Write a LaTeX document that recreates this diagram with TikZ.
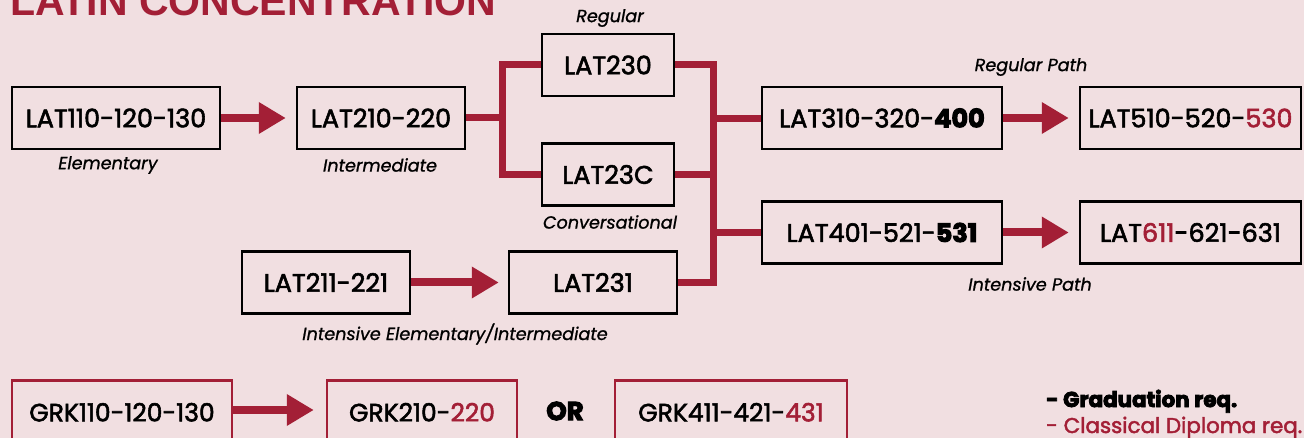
\documentclass[tikz,border=0pt]{standalone}
\usepackage{fontspec}
\usetikzlibrary{arrows.meta}
\setmainfont{Poppins}[ItalicFeatures={FakeBold=1}]
\newfontfamily\titlefont{Liberation Sans}
\newfontfamily\boxfont{Poppins}[FakeBold=2.2]
\newfontfamily\heavy{Poppins}[BoldFeatures={FakeBold=4}]
\definecolor{bg}{HTML}{F1DFE1}
\definecolor{crim}{HTML}{A31F36}
\tikzset{
  box/.style={draw=black, line width=2.5pt, minimum height=62pt, inner sep=0pt, font=\boxfont\fontsize{25.5}{28}\selectfont},
  gbox/.style={draw=crim, line width=2.5pt, minimum height=64pt, inner sep=0pt, font=\boxfont\fontsize{25}{28}\selectfont},
  lab/.style={inner sep=0pt, font=\itshape\fontsize{17.6}{20}\selectfont},
  conn/.style={draw=crim, line width=7pt},
  arr/.style={draw=crim, line width=8pt, -{Triangle[length=27pt,width=30pt]}},
}
\begin{document}
\begin{tikzpicture}[x=1pt,y=-1pt]
\fill[bg] (0,0) rectangle (1304,438);
\useasboundingbox (0,0) rectangle (1304,438);
\node[anchor=base west, inner sep=0pt, text=crim, font=\titlefont\bfseries\fontsize{41}{45}\selectfont] (title) at (10,16) {LATIN CONCENTRATION};
% boxes
\node[box, minimum width=208pt] (l110) at (116,118) {LAT110-120-130};
\node[box, minimum width=168pt] (l210) at (381,118) {LAT210-220};
\node[box, minimum width=132pt] (l230) at (608,65) {LAT230};
\node[box, minimum width=132pt] (l23c) at (608,174.5) {LAT23C};
\node[box, minimum width=168pt] (l211) at (326,282.5) {LAT211-221};
\node[box, minimum width=168pt] (l231) at (593,282.5) {LAT231};
\node[box, minimum width=240pt] (l310) at (882,118) {LAT310-320-{\heavy\bfseries 400}};
\node[box, minimum width=221pt] (l510) at (1190.5,118) {LAT510-520-\textcolor{crim}{530}};
\node[box, minimum width=240pt] (l401) at (882,232.5) {LAT401-521-{\heavy\bfseries 531}};
\node[box, minimum width=221pt] (l611) at (1190.5,232.5) {LAT\textcolor{crim}{611}-621-631};
% labels
\node[lab] (tElem) at (108,165) {Elementary};
\node[lab] (tInt) at (380,165) {Intermediate};
\node[lab] (tReg) at (610,18) {Regular};
\node[lab] (tConv) at (610,222) {Conversational};
\node[lab] (tRegP) at (1031,67) {Regular Path};
\node[lab] (tIntP) at (1030,284) {Intensive Path};
\node[lab] (tIEI) at (455,334) {Intensive Elementary/Intermediate};
% connectors
\coordinate (j1) at (502,118);
\coordinate (j2) at (713,119);
\coordinate (j3) at (713,232.5);
\draw[conn] (l230.west) -| (j1) |- (l23c.west);
\draw[conn] (l210.east) -- (j1);
\draw[conn] (l230.east) -| (j2) -- (j3) |- (l231.east);
\draw[conn] (l23c.east) -- (l23c.east -| j2);
\draw[conn] (j2) -- (j2 -| l310.west);
\draw[conn] (j3) -- (l401.west);
\draw[arr] (l110.east) -- ([xshift=-10pt]l210.west);
\draw[arr] (l211.east) -- ([xshift=-9pt]l231.west);
\draw[arr] (l310.east) -- ([xshift=-10pt]l510.west);
\draw[arr] (l401.east) -- ([xshift=-10pt]l611.west);
% Greek row
\node[gbox, minimum width=220pt, anchor=north] (g110) at (122,379) {\raisebox{-2pt}{GRK110-120-130}};
\node[gbox, minimum width=190pt, anchor=north] (g210) at (422,379) {\raisebox{-2pt}{GRK210-\textcolor{crim}{220}}};
\node[inner sep=0pt, font=\heavy\bfseries\fontsize{26}{30}\selectfont] (or) at (565,411) {OR};
\node[gbox, minimum width=232pt, anchor=north] (g411) at (731,379) {\raisebox{-2pt}{GRK411-421-\textcolor{crim}{431}}};
\coordinate (ga) at (232,410);
\draw[arr] (ga) -- ([xshift=-12pt]ga -| g210.west);
% legend
\node[anchor=base west, inner sep=0pt, font=\heavy\bfseries\fontsize{21.4}{24}\selectfont] (leg1) at (1046,407) {- Graduation req.};
\node[anchor=base west, inner sep=0pt, text=crim, font=\boxfont\fontsize{21.4}{24}\selectfont] (leg2) at (1046,433) {- Classical Diploma req.};
\end{tikzpicture}
\end{document}
